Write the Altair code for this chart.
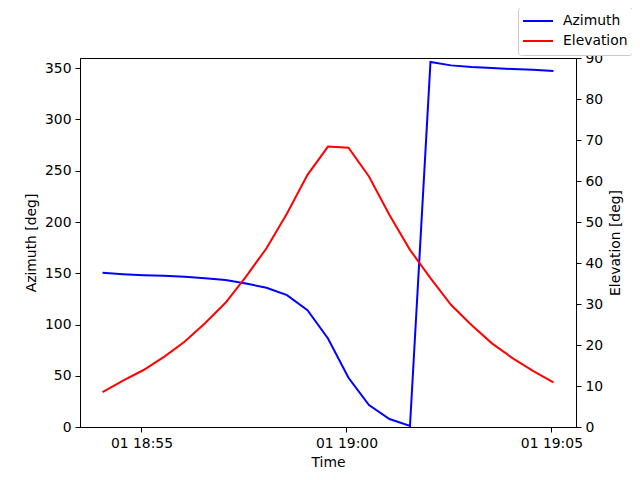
import altair as alt
import pandas as pd

times = [
    "2024-01-01T18:54:03", "2024-01-01T18:54:33", "2024-01-01T18:55:03", "2024-01-01T18:55:33",
    "2024-01-01T18:56:03", "2024-01-01T18:56:33", "2024-01-01T18:57:03", "2024-01-01T18:57:33",
    "2024-01-01T18:58:03", "2024-01-01T18:58:33", "2024-01-01T18:59:03", "2024-01-01T18:59:33",
    "2024-01-01T19:00:03", "2024-01-01T19:00:33", "2024-01-01T19:01:03", "2024-01-01T19:01:33",
    "2024-01-01T19:02:03", "2024-01-01T19:02:33", "2024-01-01T19:03:03", "2024-01-01T19:03:33",
    "2024-01-01T19:04:03", "2024-01-01T19:04:33", "2024-01-01T19:05:03",
]
azimuth = [150.4, 149.1, 148.1, 147.5, 146.5, 145.2, 143.3, 140.0, 135.8, 128.7, 114.0, 86.4,
           48.0, 21.4, 7.8, 1.0, 356.1, 352.8, 351.2, 350.2, 349.2, 348.6, 347.3]
elevation = [8.5, 11.3, 13.9, 17.1, 20.8, 25.3, 30.3, 36.7, 43.6, 52.1, 61.5, 68.4,
             68.1, 61.1, 51.7, 43.2, 36.3, 29.8, 24.9, 20.4, 16.8, 13.7, 10.9]
series_names = ["Azimuth", "Elevation"]
series_colors = ["#0000ff", "#ff0000"]
az_ticks = [0, 50, 100, 150, 200, 250, 300, 350]
el_ticks = [0, 10, 20, 30, 40, 50, 60, 70, 80, 90]

df = pd.DataFrame(
    {"time": times + times,
     "value": azimuth + elevation,
     "series": [series_names[0]] * len(times) + [series_names[1]] * len(times)}
)

FONT = "DejaVu Sans"
FS = 13.9


def dt(h, m, s=0):
    return alt.DateTime(year=2024, month=1, date=1, hours=h, minutes=m, seconds=s)


x_enc = alt.X(
    "time:T",
    scale=alt.Scale(domain=[dt(18, 53, 30), dt(19, 5, 36)]),
    axis=alt.Axis(values=[dt(18, 55), dt(19, 0), dt(19, 5)], format="%d %H:%M",
                  title="Time", labelPadding=4, titlePadding=6),
)
color_enc = alt.Color(
    "series:N",
    scale=alt.Scale(domain=series_names, range=series_colors),
    legend=alt.Legend(
        orient="none", legendX=438, legendY=-51, title=None,
        symbolType="stroke", symbolSize=900, symbolStrokeWidth=2,
        labelFont=FONT, labelFontSize=FS, labelColor="black", labelOffset=9,
        strokeColor="#cccccc", fillColor="white", cornerRadius=3, padding=4,
        rowPadding=-10, clipHeight=20,
    ),
)

base = alt.Chart(df)

az = base.transform_filter(alt.datum.series == "Azimuth").mark_line(strokeWidth=2).encode(
    x=x_enc,
    y=alt.Y("value:Q", scale=alt.Scale(domain=[0, 360], nice=False),
            axis=alt.Axis(values=az_ticks, title="Azimuth [deg]", orient="left",
                          labelPadding=4, titlePadding=6)),
    color=color_enc,
)
el = base.transform_filter(alt.datum.series == "Elevation").mark_line(strokeWidth=2).encode(
    x=x_enc,
    y=alt.Y("value:Q", scale=alt.Scale(domain=[0, 90], nice=False),
            axis=alt.Axis(values=el_ticks, title="Elevation [deg]", orient="right",
                          labelPadding=4, titlePadding=6, titleAngle=270,
                          titleBaseline="top")),
    color=color_enc,
)

chart = (
    alt.layer(az, el)
    .resolve_scale(y="independent")
    .properties(
        width=496, height=369,
        autosize=alt.AutoSizeParams(type="none"),
        padding={"left": 72, "top": 50, "right": 56, "bottom": 45},
    )
    .configure_view(stroke="black", strokeWidth=1)
    .configure_axis(
        grid=False, domainColor="black", tickColor="black", labelColor="black",
        titleColor="black", tickSize=5, labelFont=FONT, labelFontSize=FS,
        titleFont=FONT, titleFontSize=FS, titleFontWeight="normal",
    )
)

chart.save("out.html", embed_options={"renderer": "svg", "actions": False})
